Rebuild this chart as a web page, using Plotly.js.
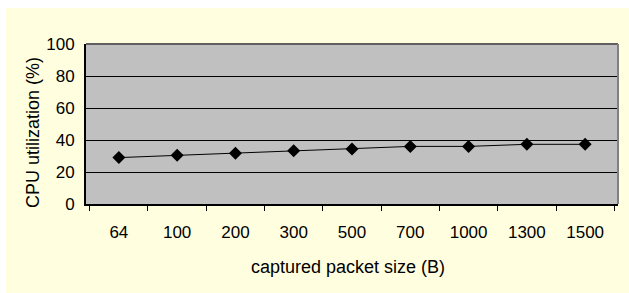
<!DOCTYPE html>
<html>
<head>
<meta charset="utf-8">
<script src="https://cdn.plot.ly/plotly-3.0.1.min.js"></script>
<style>
html,body{margin:0;padding:0;background:#ffffff;width:629px;height:293px;overflow:hidden;}
#chart{position:absolute;left:6px;top:8px;width:623px;height:285px;}
</style>
</head>
<body>
<div id="chart"></div>
<script>
var packetSizes = ['64','100','200','300','500','700','1000','1300','1500'];
var cpuUtil = [29, 30.4, 31.7, 33.3, 34.4, 36, 36, 37.3, 37.3];
var yTicks = [0, 20, 40, 60, 80, 100];
var xTitle = 'captured packet size (B)';
var yTitle = 'CPU utilization (%)';

var font = {family: 'Arial, "Liberation Sans", sans-serif', color: '#000000'};

var trace = {
  x: packetSizes,
  y: cpuUtil,
  type: 'scatter',
  mode: 'lines+markers',
  line: {color: '#000000', width: 1},
  marker: {symbol: 'diamond', size: 10, color: '#000000'},
  hoverinfo: 'skip'
};

var layout = {
  width: 623,
  height: 285,
  margin: {l: 80, r: 11, t: 36, b: 89, pad: 0},
  paper_bgcolor: '#FFFFE0',
  plot_bgcolor: '#C0C0C0',
  showlegend: false,
  font: font,
  xaxis: {
    type: 'category',
    tickson: 'boundaries',
    ticks: 'outside',
    ticklen: 5,
    tickwidth: 1,
    tickcolor: '#000000',
    showgrid: false,
    showline: true,
    linecolor: '#000000',
    linewidth: 2,
    tickfont: {family: font.family, size: 17, color: '#000000'},
    ticklabelstandoff: 12,
    fixedrange: true
  },
  yaxis: {
    range: [0, 100],
    tickvals: yTicks,
    ticktext: yTicks.map(String),
    ticks: '',
    showgrid: true,
    gridcolor: '#000000',
    gridwidth: 1,
    zeroline: false,
    showline: true,
    linecolor: '#000000',
    linewidth: 2,
    tickfont: {family: font.family, size: 17, color: '#000000'},
    ticklabelstandoff: 6,
    fixedrange: true
  },
  shapes: [
    {type: 'line', xref: 'paper', yref: 'paper', x0: 0, x1: 1, y0: 1, y1: 1, line: {color: '#606060', width: 2}},
    {type: 'line', xref: 'paper', yref: 'paper', x0: 1, x1: 1, y0: 0, y1: 1, line: {color: '#808080', width: 2}}
  ],
  annotations: [
    {text: xTitle, xref: 'paper', yref: 'paper', x: 0.4934, y: -0.394, xanchor: 'center', yanchor: 'middle', showarrow: false, font: {family: font.family, size: 18, color: '#000000'}},
    {text: yTitle, xref: 'paper', yref: 'paper', x: -0.0996, y: 0.444, xanchor: 'center', yanchor: 'middle', textangle: -90, showarrow: false, font: {family: font.family, size: 18, color: '#000000'}}
  ]
};

Plotly.newPlot('chart', [trace], layout, {displayModeBar: false, staticPlot: true});
</script>
</body>
</html>
